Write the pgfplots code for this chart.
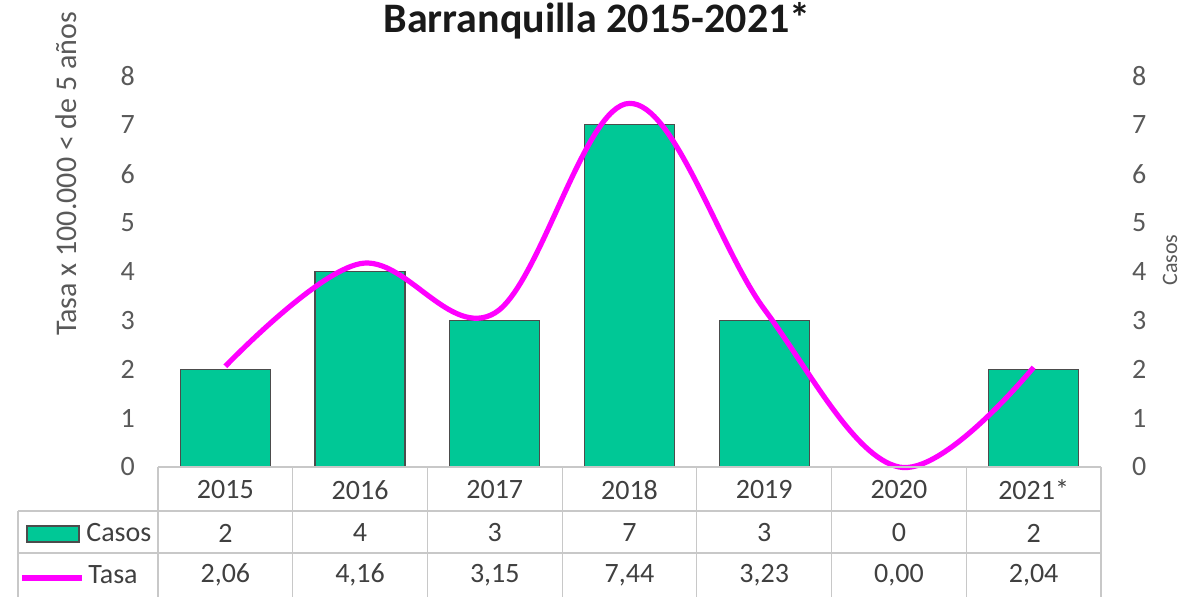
\documentclass[border=0pt]{standalone}
\usepackage{pgfplots}
\usepackage{pgfplotstable}
\pgfplotsset{compat=1.18}
\usepackage{fontspec}
\setmainfont{Carlito}

\definecolor{casos}{HTML}{00C896}
\definecolor{tasa}{HTML}{FF00FF}
\definecolor{gridc}{HTML}{C8C8C8}
\definecolor{txt}{HTML}{595959}
\definecolor{tbl}{HTML}{404040}

\pgfplotstableread{
x casos tasa
0 2 2.06
1 4 4.16
2 3 3.15
3 7 7.44
4 3 3.23
5 0 0.00
6 2 2.04
}\datos

\pgfplotsset{
  base/.style={
    at={(79pt,65pt)}, anchor=south west,
    scale only axis, width=471.5pt, height=195.5pt,
    xmin=-0.5, xmax=6.5, ymin=0, ymax=8,
    xtick=\empty, ytick={0,...,8},
    axis line style={draw=none},
    major tick length=0pt,
    tick label style={font=\fontsize{14}{14}\selectfont, text=txt},
    /pgf/number format/assume math mode=true,
    clip=false,
  },
}

\begin{document}
\begin{tikzpicture}
% casos, right axis
\begin{axis}[base, yticklabel pos=right, yticklabel style={xshift=12pt}]
\addplot[ybar, bar width=45pt, fill=casos, draw=black!70, line width=0.6pt]
  table[x=x, y=casos]{\datos};
\end{axis}
% tasa, left axis
\begin{axis}[base, yticklabel pos=left, yticklabel style={xshift=-8pt}]
\addplot[tasa, line width=2.6pt, smooth, tension=0.6]
  table[x=x, y=tasa]{\datos};
\end{axis}

\begin{scope}[x=0.5pt, y=-0.5pt, shift={(0pt,298.5pt)}]
  % title and axis titles
  \node[font=\bfseries\fontsize{21}{21}\selectfont, text=black!90] at (597,21) {Barranquilla 2015-2021*};
  \node[rotate=90, font=\fontsize{15}{15}\selectfont, text=txt] at (66,174) {Tasa x 100.000 < de 5 años};
  \node[rotate=90, font=\fontsize{11}{11}\selectfont, text=txt] at (1170,260) {Casos};

  % data table grid
  \draw[gridc, line width=0.6pt] (158,467) -- (1101,467);
  \draw[gridc, line width=0.6pt] (18,511) -- (1101,511);
  \draw[gridc, line width=0.6pt] (18,553) -- (1101,553);
  \draw[gridc, line width=0.6pt] (18,511) -- (18,597);
  \foreach \k in {0,...,7}
    \draw[gridc, line width=0.6pt] ({158+\k*134.71},467) -- ({158+\k*134.71},597);

  % table text
  \foreach \y [count=\i from 0] in {2015,2016,2017,2018,2019,2020,2021*}
    \node[font=\fontsize{14}{14}\selectfont, text=tbl] at ({158+(\i+0.5)*134.71},490) {\y};
  \foreach \v [count=\i from 0] in {2,4,3,7,3,0,2}
    \node[font=\fontsize{14}{14}\selectfont, text=tbl] at ({158+(\i+0.5)*134.71},533) {\v};
  \foreach \v [count=\i from 0] in {{2,06},{4,16},{3,15},{7,44},{3,23},{0,00},{2,04}}
    \node[font=\fontsize{14}{14}\selectfont, text=tbl] at ({158+(\i+0.5)*134.71},575) {\v};

  % legend keys
  \draw[fill=casos, draw=black!70, line width=0.6pt] (27,526) rectangle (79,542);
  \node[anchor=west, inner sep=0pt, font=\fontsize{14}{14}\selectfont, text=tbl] at (86,533) {Casos};
  \draw[tasa, line width=2.6pt] (22,578) -- (82,578);
  \node[anchor=west, inner sep=0pt, font=\fontsize{14}{14}\selectfont, text=tbl] at (88,575) {Tasa};
\end{scope}

\pgfresetboundingbox
\path[use as bounding box] (0,0) rectangle (591.5pt,298.5pt);
\end{tikzpicture}
\end{document}
